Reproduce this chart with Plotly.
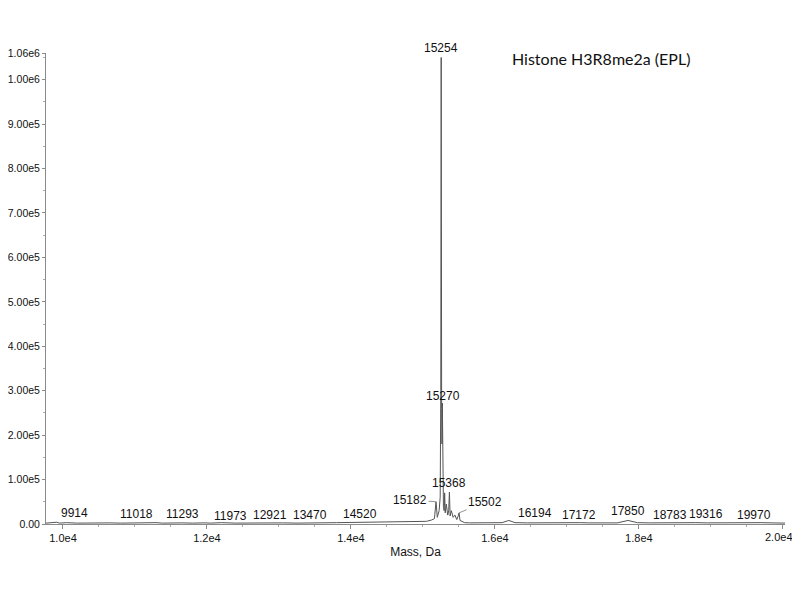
import plotly.graph_objects as go

# ---- spectrum ----
mass = [9764, 9820, 9880, 9914, 9950, 10050, 10200, 10350, 10500, 10650, 10800,
        10950, 11018, 11080, 11200, 11293, 11380, 11500, 11650, 11800, 11900,
        11973, 12050, 12200, 12400, 12600, 12800, 12921, 13050, 13250, 13470,
        13600, 13800, 14000, 14200, 14400, 14520, 14650, 14800, 14950, 15050,
        15120, 15160, 15182, 15200, 15225, 15240, 15248, 15254, 15260, 15265,
        15270, 15276, 15285, 15295, 15302, 15310, 15325, 15345, 15358, 15368,
        15378, 15395, 15420, 15445, 15470, 15490, 15502, 15515, 15540, 15580,
        15650, 15800, 15950, 16100, 16194, 16280, 16450, 16650, 16850, 17000,
        17172, 17300, 17500, 17700, 17850, 17980, 18150, 18350, 18550, 18783,
        18950, 19150, 19316, 19500, 19700, 19850, 19970, 20030]
intensity = [2000, 3000, 2500, 4000, 2000, 3000, 2000, 2500, 1500, 2500, 2000,
             2500, 3000, 2000, 2500, 3000, 2000, 1500, 2500, 2000, 3000,
             2500, 2000, 3000, 2000, 2500, 2000, 3000, 2500, 2000, 3000,
             2500, 3000, 3500, 4000, 5000, 5000, 6000, 5500, 7000, 6000,
             9000, 12000, 50000, 15000, 30000, 60000, 300000, 1050000, 260000, 180000,
             272000, 120000, 40000, 30000, 70000, 25000, 45000, 20000, 30000, 72000,
             18000, 30000, 15000, 20000, 10000, 18000, 25000, 8000, 6000, 3000,
             2500, 3000, 2000, 3000, 8000, 3000, 2500, 3000, 2000, 2500,
             3000, 2500, 3000, 2500, 8000, 3000, 2500, 3000, 2500, 3000,
             2500, 3000, 3000, 2500, 3000, 2500, 3000, 2000]

# ---- peak labels ----
peak_mass = [9914, 11018, 11293, 11973, 12921, 13470, 14520, 15182, 15254,
             15270, 15368, 15502, 16194, 17172, 17850, 18783, 19316, 19970]
peak_int = [4000, 3000, 3000, 2500, 3000, 3000, 5000, 50000, 1050000,
            272000, 72000, 25000, 8000, 3000, 8000, 3000, 3000, 3000]
peak_text = [str(m) for m in peak_mass]

y_tickvals = [0, 1e5, 2e5, 3e5, 4e5, 5e5, 6e5, 7e5, 8e5, 9e5, 1e6, 1.06e6]
y_ticktext = ["0.00", "1.00e5", "2.00e5", "3.00e5", "4.00e5", "5.00e5",
              "6.00e5", "7.00e5", "8.00e5", "9.00e5", "1.00e6", "1.06e6"]
x_tickvals = [10000, 12000, 14000, 16000, 18000, 20000]
x_ticktext = ["1.0e4", "1.2e4", "1.4e4", "1.6e4", "1.8e4", "2.0e4"]

# label placement style (pixel offsets): (xshift, yshift, leader)
label_style = [(18, 0, False), (0, 0, False), (26, 0, False), (25, -2, False),
               (-3, -1, False), (-3, -1, False), (-28, -1, False), (-26, 5, True),
               (0, 0, False), (1, -2, False), (0, 0, False), (26, -4, True),
               (26, -2, False), (0, -1, False), (0, 0, False), (-25, -1, False),
               (-28, 0, False), (-27, -1, False)]

TXT = "#111111"
FONT = "Liberation Sans, Arial"

fig = go.Figure()
fig.add_trace(go.Scatter(x=mass, y=intensity, mode="lines",
                         line=dict(color="#555555", width=1), hoverinfo="skip",
                         showlegend=False))

annotations = []
for m, h, t, (dx, dy, leader) in zip(peak_mass, peak_int, peak_text, label_style):
    if leader:
        annotations.append(dict(x=m, y=h, xref="x", yref="y", text=t,
                                showarrow=True, arrowhead=0, arrowwidth=0.8,
                                arrowcolor="#777", ax=dx, ay=dy - 7,
                                font=dict(family=FONT, size=12, color=TXT)))
    else:
        annotations.append(dict(x=m, y=h, xref="x", yref="y", text=t,
                                showarrow=False, yanchor="bottom",
                                xshift=dx, yshift=dy,
                                font=dict(family=FONT, size=12, color=TXT)))

annotations.append(dict(x=0.751, y=0.989, xref="paper", yref="paper",
                        text="Histone H3R8me2a (EPL)", showarrow=False,
                        xanchor="center", yanchor="middle",
                        font=dict(family="Lato, Open Sans", size=16, color=TXT)))

# last x tick label drawn as an annotation so it is not hidden at the page edge
annotations.append(dict(x=x_tickvals[-1], y=0, xref="x", yref="paper",
                        text=x_ticktext[-1], showarrow=False,
                        xanchor="center", yanchor="top", xshift=-4, yshift=-5,
                        font=dict(family=FONT, size=11, color=TXT)))
x_ticktext_axis = x_ticktext[:-1] + [""]

fig.update_layout(
    width=784, height=584,
    margin=dict(l=38, r=7, t=45, b=68, autoexpand=False),
    paper_bgcolor="white", plot_bgcolor="white",
    annotations=annotations,
    xaxis=dict(range=[9764, 20030], tickvals=x_tickvals, ticktext=x_ticktext_axis,
               automargin=False,
               showgrid=False, zeroline=False, showline=True, linecolor="#8a8a8a",
               linewidth=1, ticks="outside", ticklen=4, tickcolor="#8a8a8a",
               minor=dict(dtick=500, ticks="outside", ticklen=2, tickcolor="#aaa"),
               tickfont=dict(family=FONT, size=11, color=TXT),
               title=dict(text="Mass, Da", standoff=4,
                          font=dict(family=FONT, size=12, color=TXT))),
    yaxis=dict(range=[0, 1.06e6], tickvals=y_tickvals, ticktext=y_ticktext,
               automargin=False,
               showgrid=False, zeroline=False, showline=True, linecolor="#8a8a8a",
               linewidth=1, ticks="outside", ticklen=3, tickcolor="#8a8a8a",
               minor=dict(dtick=50000, ticks="outside", ticklen=2, tickcolor="#aaa"),
               tickfont=dict(family=FONT, size=10.5, color=TXT)),
)

fig.write_html("out.html")
